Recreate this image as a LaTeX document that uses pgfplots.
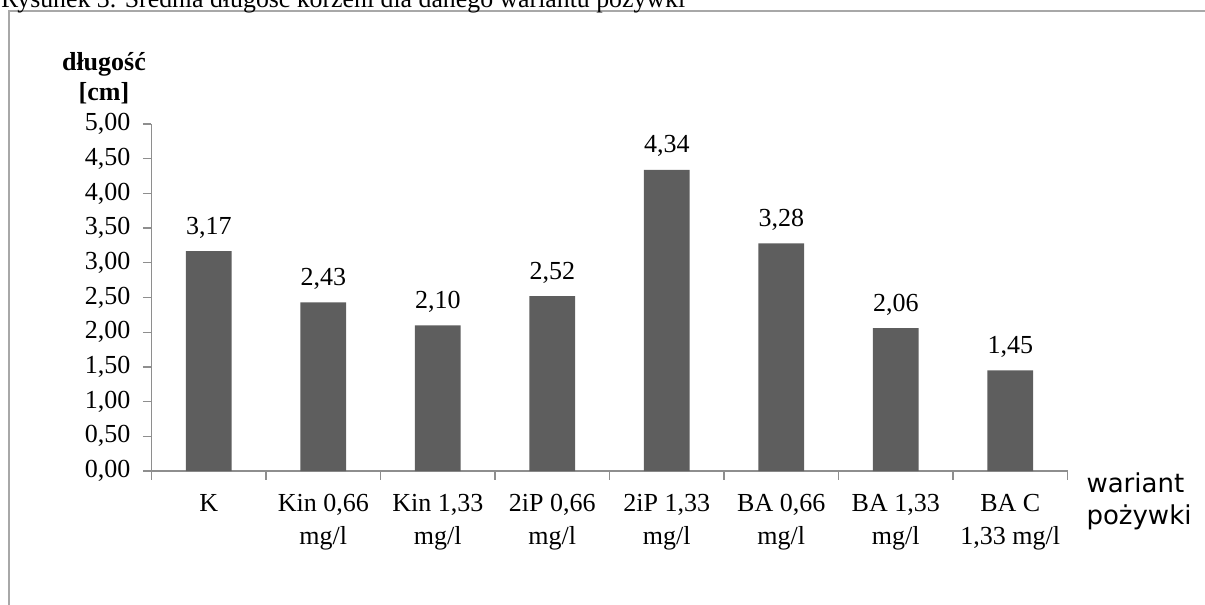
\documentclass[border=0pt]{standalone}
\usepackage{fontspec}
\setmainfont{Liberation Serif}
\newfontfamily\labelsans{DejaVu Sans}
\usepackage{pgfplots}
\pgfplotsset{compat=1.18}

\definecolor{barfill}{HTML}{5E5E5E}
\definecolor{axisgray}{HTML}{8E8E8E}
\definecolor{framegray}{HTML}{A8A8A8}

\begin{document}
\begin{tikzpicture}
\useasboundingbox (0pt,0pt) rectangle (1205pt,-605pt);
\clip (0pt,0pt) rectangle (1205pt,-605pt);
% frame around the figure and its caption
\draw[framegray, line width=2pt] (1215pt,-11pt) -- (9.2pt,-11pt) -- (9.2pt,-615pt);
\node[anchor=base west, inner sep=0pt, font=\fontsize{25.8}{30}\selectfont] at (1pt,-7pt)
  {Rysunek 3. Średnia długość korzeni dla danego wariantu pożywki};

\begin{axis}[
  at={(151.5pt,-471pt)}, anchor=south west,
  x=114.5pt, y=69.4pt,
  xmin=-0.5, xmax=7.5, ymin=0, ymax=5,
  axis lines*=left,
  axis line style={draw=axisgray, line width=1.3pt},
  tick style={draw=axisgray, line width=1.3pt},
  tick align=outside,
  major tick length=8.5pt,
  ytick={0,0.5,1,1.5,2,2.5,3,3.5,4,4.5,5},
  yticklabel style={xshift=-9pt},
  xtick={-0.5,0.5,1.5,2.5,3.5,4.5,5.5,6.5,7.5},
  xticklabels={},
  extra x ticks={0,1,2,3,4,5,6,7},
  extra x tick labels={K,{Kin 0,66\\mg/l},{Kin 1,33\\mg/l},{2iP 0,66\\mg/l},{2iP 1,33\\mg/l},{BA 0,66\\mg/l},{BA 1,33\\mg/l},{BA C\\1,33 mg/l}},
  extra x tick style={major tick length=0pt,
    tick label style={align=center, anchor=north, yshift=-19.5pt,
      font=\fontsize{26}{33}\selectfont}},
  /pgf/number format/.cd, use comma, fixed, fixed zerofill, precision=2, assume math mode=true,
  /pgfplots/.cd,
  every tick label/.append style={font=\fontsize{26}{33}\selectfont},
  ylabel={długość\\{[cm]}},
  ylabel style={rotate=-90, align=center, anchor=base,
    font=\bfseries\fontsize{26}{30}\selectfont,
    at={(axis description cs:-0.0519,1.0663)}},
  xlabel={wariant\\pożywki},
  xlabel style={align=left, anchor=base west,
    font=\labelsans\fontsize{26}{32}\selectfont,
    at={(axis description cs:1.0169,-0.1556)}},
  clip=false,
]
\addplot[ybar, fill=barfill, draw=none, bar width=45.7pt,
  nodes near coords,
  every node near coord/.append style={anchor=base, yshift=17pt,
    font=\fontsize{26}{30}\selectfont, text=black}]
  coordinates {(0,3.17) (1,2.43) (2,2.10) (3,2.52) (4,4.34) (5,3.28) (6,2.06) (7,1.45)};
\end{axis}
\end{tikzpicture}
\end{document}
